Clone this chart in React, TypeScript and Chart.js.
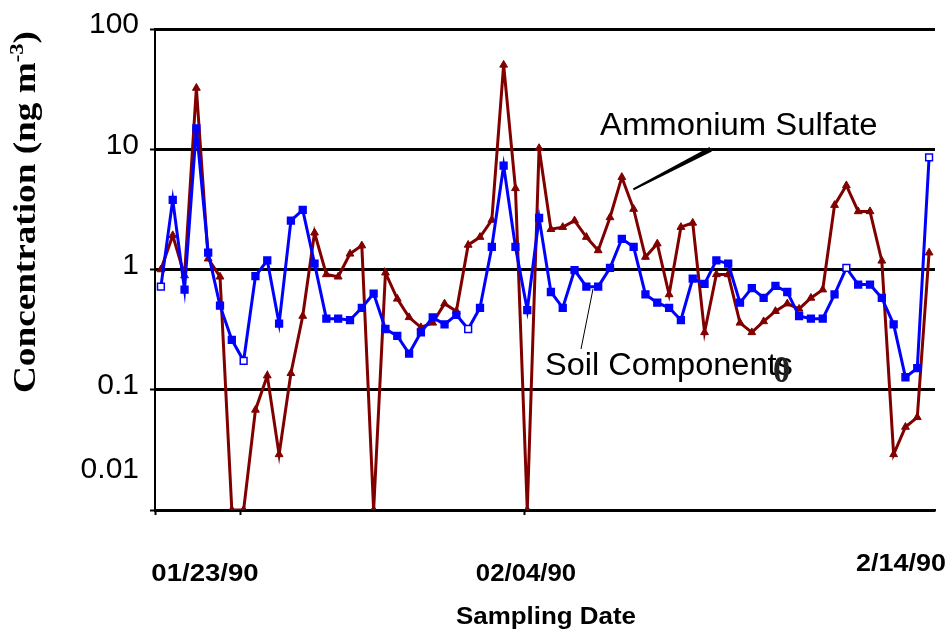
import React, { useEffect, useRef } from "react";
import { Chart, registerables } from "chart.js";

Chart.register(...registerables);

// ---- data ----
const soilComponents = [
  0.72, 3.79, 0.68, 14.9, 1.38, 0.5, 0.26, 0.174, 0.88, 1.19,
  0.355, 2.55, 3.13, 1.12, 0.39, 0.39, 0.38, 0.48, 0.63, 0.32,
  0.28, 0.2, 0.3, 0.4, 0.35, 0.42, 0.32, 0.48, 1.54, 7.3,
  1.54, 0.46, 2.68, 0.65, 0.48, 0.99, 0.72, 0.72, 1.03, 1.8,
  1.54, 0.62, 0.53, 0.48, 0.38, 0.84, 0.76, 1.19, 1.12, 0.53,
  0.7, 0.58, 0.73, 0.65, 0.41, 0.39, 0.39, 0.62, 1.03, 0.75,
  0.75, 0.58, 0.35, 0.127, 0.151, 8.56,
];

const ammoniumSulfate = [
  1.0, 1.92, 0.89, 32.3, 1.23, 0.87, 0.01, 0.01, 0.068, 0.131,
  0.029, 0.137, 0.41, 2.02, 0.91, 0.87, 1.35, 1.58, 0.01, 0.94,
  0.57, 0.4, 0.33, 0.36, 0.52, 0.45, 1.6, 1.86, 2.58, 50.3,
  4.73, 0.01, 10.2, 2.16, 2.25, 2.55, 1.86, 1.44, 2.71, 5.86,
  3.18, 1.27, 1.64, 0.62, 2.25, 2.44, 0.3, 0.91, 0.91, 0.36,
  0.3, 0.37, 0.45, 0.52, 0.47, 0.58, 0.68, 3.43, 5.0, 3.04,
  3.04, 1.18, 0.029, 0.049, 0.059, 1.38,
];

const hollowSoilPoints = [0, 7, 26, 58, 65];

const yTickValues = [0.01, 0.1, 1, 10, 100];
const yTickLabels = ["0.01", "0.1", "1", "10", "100"];

const xTickMarks = [0.5, 7.75, 31.8];
const xDateLabels = ["01/23/90", "02/04/90", "2/14/90"];

const yTitle = "Concentration (ng m";
const yTitleSup = "-3";
const xTitle = "Sampling Date";
const seriesNames = ["Soil Components", "Ammonium Sulfate"];

// ---- layout / style (not data) ----
const W = 950;
const H = 632;
const SANS = "'Liberation Sans', Arial, Helvetica, sans-serif";
const SERIF = "'Liberation Serif', 'Times New Roman', Times, serif";
const BLUE = "#0000ff";
const RED = "#800000";
const dateLabelPos = [
  { x: 205, y: 581, sx: 1.2 },
  { x: 526, y: 581, sx: 1.12 },
  { x: 901, y: 571, sx: 1.17 },
];

const annotationPlugin = {
  id: "annotationText",
  afterDraw(chart: any) {
    const ctx: CanvasRenderingContext2D = chart.ctx;
    const drawText = (
      text: string,
      x: number,
      y: number,
      font: string,
      align: CanvasTextAlign,
      sx = 1,
      color = "#000"
    ) => {
      ctx.save();
      ctx.translate(x, y);
      ctx.scale(sx, 1);
      ctx.font = font;
      ctx.fillStyle = color;
      ctx.textAlign = align;
      ctx.textBaseline = "alphabetic";
      ctx.fillText(text, 0, 0);
      ctx.restore();
    };

    // y-axis title with superscript
    ctx.save();
    ctx.translate(27, 212);
    ctx.rotate(-Math.PI / 2);
    ctx.scale(1.2, 1);
    const mainFont = `bold 31px ${SERIF}`;
    const supFont = `bold 19px ${SERIF}`;
    ctx.font = mainFont;
    const w1 = ctx.measureText(yTitle).width;
    const w3 = ctx.measureText(")").width;
    ctx.font = supFont;
    const w2 = ctx.measureText(yTitleSup).width;
    const total = w1 + w2 + w3;
    let cx = -total / 2;
    ctx.fillStyle = "#000";
    ctx.textBaseline = "alphabetic";
    ctx.textAlign = "left";
    ctx.font = mainFont;
    ctx.fillText(yTitle, cx, 8);
    cx += w1;
    ctx.font = supFont;
    ctx.fillText(yTitleSup, cx, -4);
    cx += w2;
    ctx.font = mainFont;
    ctx.fillText(")", cx, 8);
    ctx.restore();

    // date labels
    xDateLabels.forEach((lab, i) => {
      const p = dateLabelPos[i];
      drawText(lab, p.x, p.y, `bold 23px ${SANS}`, "center", p.sx);
    });

    // x-axis title
    drawText(xTitle, 546, 624, `bold 24px ${SANS}`, "center", 1.08);

    // series annotations
    drawText(seriesNames[1], 600, 135, `31px ${SANS}`, "left", 1.06);
    ctx.save();
    ctx.fillStyle = "#000";
    ctx.beginPath();
    ctx.moveTo(711.9, 151.5);
    ctx.lineTo(709.5, 147.0);
    ctx.lineTo(632.8, 188.4);
    ctx.lineTo(633.8, 190.3);
    ctx.closePath();
    ctx.fill();
    ctx.restore();

    drawText(seriesNames[0], 545, 375, `31px ${SANS}`, "left", 1.05);
    ctx.save();
    ctx.strokeStyle = "#000";
    ctx.lineWidth = 1;
    ctx.beginPath();
    ctx.moveTo(593, 289);
    ctx.lineTo(581, 349);
    ctx.stroke();
    ctx.restore();
    // stray glyph seen over the end of "Components"
    drawText("0", 773, 382, `bold 38px ${SERIF}`, "left", 0.9, "#222");
  },
};

export default function App() {
  const canvasRef = useRef<HTMLCanvasElement | null>(null);

  useEffect(() => {
    const canvas = canvasRef.current;
    if (!canvas) return;
    const labels = soilComponents.map((_, i) => i + 1);
    const chart = new Chart(canvas, {
      type: "line",
      data: {
        labels,
        datasets: [
          {
            label: seriesNames[0],
            data: soilComponents,
            borderColor: BLUE,
            backgroundColor: BLUE,
            borderWidth: 3,
            pointStyle: "rect",
            pointRadius: 4.8,
            pointBorderWidth: 1.5,
            pointBorderColor: BLUE,
            pointBackgroundColor: soilComponents.map((_, i) =>
              hollowSoilPoints.includes(i) ? "#ffffff" : BLUE
            ),
            tension: 0,
          },
          {
            label: seriesNames[1],
            data: ammoniumSulfate,
            borderColor: RED,
            backgroundColor: RED,
            borderWidth: 3,
            pointStyle: "triangle",
            pointRadius: 4.5,
            pointBorderWidth: 1,
            pointBorderColor: RED,
            pointBackgroundColor: RED,
            tension: 0,
          },
        ],
      },
      options: {
        responsive: false,
        animation: false,
        devicePixelRatio: 1,
        layout: { padding: { top: 22, right: 15, left: 0, bottom: 0 } },
        plugins: {
          legend: { display: false },
          tooltip: { enabled: false },
          title: { display: false },
        },
        scales: {
          x: {
            type: "linear",
            min: 0.5,
            max: 66.5,
            afterBuildTicks: (scale: any) => {
              scale.ticks = xTickMarks.map((v) => ({ value: v }));
            },
            afterFit: (scale: any) => {
              scale.height = H - 510;
            },
            ticks: { display: false },
            grid: {
              drawOnChartArea: false,
              drawTicks: true,
              tickLength: 5,
              tickColor: "#000",
              tickWidth: 2,
            },
            border: { display: true, color: "#000", width: 2.5 },
          },
          y: {
            type: "logarithmic",
            min: 0.01,
            max: 100,
            afterBuildTicks: (scale: any) => {
              scale.ticks = yTickValues.map((v) => ({ value: v }));
            },
            afterFit: (scale: any) => {
              scale.width = 155;
            },
            ticks: {
              color: "#000",
              font: { family: SANS, size: 30 },
              padding: 11,
              labelOffset: -4,
              callback: (value: any) => {
                const idx = yTickValues.indexOf(Number(value));
                if (idx === 0) return [yTickLabels[0], "", ""];
                return idx >= 0 ? yTickLabels[idx] : "";
              },
            },
            grid: {
              color: "#000",
              lineWidth: 3,
              drawTicks: true,
              tickLength: 5,
              tickColor: "#000",
              tickWidth: 2,
            },
            border: { display: true, color: "#000", width: 2 },
          },
        },
      },
      plugins: [annotationPlugin],
    } as any);
    return () => chart.destroy();
  }, []);

  return (
    <div
      style={{
        position: "absolute",
        left: 0,
        top: 0,
        width: W,
        height: H,
        background: "#fff",
      }}
    >
      <canvas ref={canvasRef} width={W} height={H} style={{ display: "block" }} />
    </div>
  );
}
